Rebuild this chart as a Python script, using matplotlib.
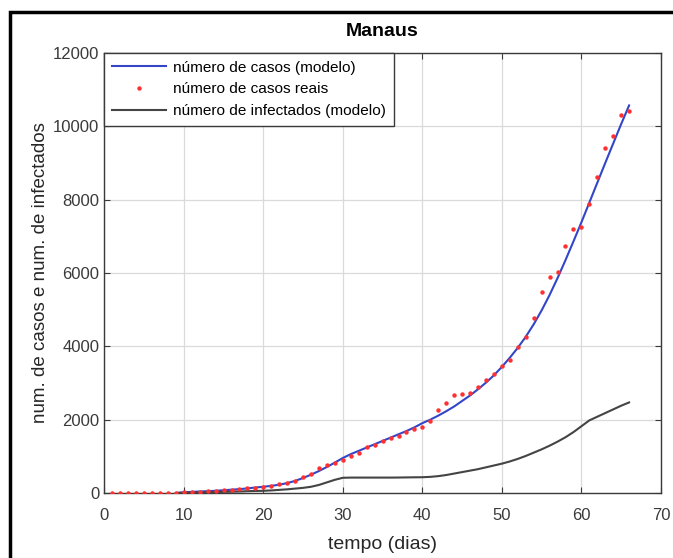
import numpy as np
import matplotlib
matplotlib.use("Agg")
import matplotlib.pyplot as plt
from matplotlib.patches import Rectangle

plt.rcParams['font.family'] = ['Liberation Sans', 'DejaVu Sans']

# real case counts (red dots), one per day
dias_reais = list(range(1, 67))
casos_reais = [1, 1, 1, 2, 2, 3, 3, 5, 8,
               20, 30, 40, 55, 65, 80, 95, 110, 125, 140,
               160, 200, 250, 270, 335, 440, 530, 680, 760, 830,
               910, 1000, 1080, 1260, 1320, 1430, 1500, 1560, 1650, 1750,
               1790, 1960, 2260, 2460, 2660, 2700, 2720, 2890, 3080, 3250,
               3470, 3640, 3980, 4250, 4780, 5470, 5890, 6040, 6740, 7200,
               7260, 7870, 8630, 9420, 9730, 10300, 10420]

# model curves
dias_modelo = list(range(9, 67))
casos_modelo = [0, 20, 30, 40, 50, 60, 75, 90, 105, 125, 150,
                170, 195, 225, 270, 330, 410, 500, 600, 710, 830,
                955, 1060, 1150, 1240, 1330, 1420, 1510, 1600, 1690, 1790,
                1905, 2000, 2110, 2230, 2360, 2510, 2660, 2830, 3010, 3210,
                3440, 3690, 3960, 4260, 4600, 4980, 5400, 5860, 6350, 6860,
                7380, 7920, 8460, 9000, 9530, 10060, 10570]
infectados_modelo = [0, 5, 10, 15, 20, 25, 30, 35, 40, 50, 55,
                     60, 70, 85, 100, 120, 140, 170, 220, 290, 360,
                     415, 420, 420, 420, 420, 420, 420, 422, 425, 428,
                     430, 440, 460, 490, 530, 570, 610, 650, 700, 750,
                     800, 860, 930, 1010, 1100, 1190, 1290, 1400, 1520, 1660,
                     1820, 1980, 2080, 2180, 2280, 2380, 2470]

fig = plt.figure(figsize=(6.73, 5.58), dpi=100)
ax = fig.add_axes([0.155, 0.1165, 0.827, 0.7885])

ax.plot(dias_modelo, casos_modelo, color='#3346c8', lw=1.5,
        label='número de casos (modelo)', zorder=3)
ax.plot(dias_reais, casos_reais, linestyle='none', marker='o', ms=3.2,
        color='#ff3030', mec='none', label='número de casos reais', zorder=4)
ax.plot(dias_modelo, infectados_modelo, color='#444444', lw=1.5,
        label='número de infectados (modelo)', zorder=3)

ax.set_xlim(0, 70)
ax.set_ylim(0, 12000)
ax.set_xticks(range(0, 71, 10))
ax.set_yticks(range(0, 12001, 2000))
ax.grid(True, color='#dadada', lw=0.9)
ax.set_axisbelow(True)
ax.tick_params(direction='in', top=True, right=True, length=4,
               labelsize=12, colors='#3a3a3a', labelcolor='#3a3a3a')
ax.tick_params(axis='x', pad=11)
for s in ax.spines.values():
    s.set_color('#3a3a3a')
    s.set_linewidth(1.0)

ax.set_title('Manaus', fontsize=14, fontweight='bold', pad=12)
ax.set_xlabel('tempo (dias)', fontsize=14, color='#262626', labelpad=9)
ax.set_ylabel('num. de casos e num. de infectados', fontsize=13.5,
              color='#262626', labelpad=3)

leg = ax.legend(loc='upper left', fontsize=11.1, borderaxespad=0,
                fancybox=False, framealpha=1, edgecolor='#3a3a3a',
                handlelength=3.5, handletextpad=0.45, labelspacing=0.5,
                borderpad=0.5)
leg.get_frame().set_linewidth(1.0)

# outer frame of the picture
fig.patches.append(Rectangle((10 / 673, -0.1), 1.2, 1 - 12 / 558 + 0.1,
                             transform=fig.transFigure, fill=False,
                             edgecolor='black', lw=2.5))

fig.savefig('out.png', dpi=100)
